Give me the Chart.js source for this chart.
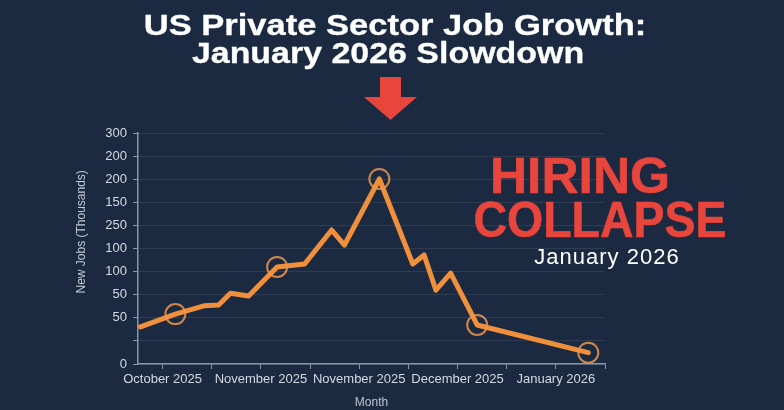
<!DOCTYPE html>
<html>
<head>
<meta charset="utf-8">
<script src="https://cdn.jsdelivr.net/npm/chart.js@4"></script>
<style>
  html, body { margin: 0; padding: 0; background: #1b2a41; }
  canvas { display: block; }
</style>
</head>
<body>
<canvas id="chart" width="784" height="410"></canvas>
<script>
'use strict';

// Axis tick labels as printed on the picture (y labels bottom to top, one per tick step)
const yTickLabels = ['0', '', '50', '50', '100', '100', '250', '150', '200', '200', '300'];
const monthLabels = ['October 2025', '', 'November 2025', '', 'November 2025', '', 'December 2025', '', 'January 2026', ''];

// Line points, in tick steps along each axis
const pointX = [-0.45, 0.26, 0.84, 1.14, 1.38, 1.75, 2.33, 2.89, 3.44, 3.70, 4.41, 5.09, 5.32, 5.56, 5.86, 6.40, 8.66];
const pointY = [1.61, 2.16, 2.52, 2.55, 3.06, 2.94, 4.20, 4.33, 5.80, 5.15, 8.01, 4.33, 4.72, 3.20, 3.93, 1.69, 0.49];
const circled = [false, true, false, false, false, false, true, false, false, false, true, false, false, false, false, true, true];

const titleLines = ['US Private Sector Job Growth:', 'January 2026 Slowdown'];
const headline = ['HIRING', 'COLLAPSE'];
const subline = 'January 2026';

const FONT = '"Liberation Sans", Arial, sans-serif';
const BG = '#1b2a41';
const ORANGE = '#f0903d';
const RED = '#e8453c';
const AXIS = '#8a97a9';
const TICK_TEXT = '#d3d9e2';

// bold text, stretched horizontally by sx, thickened a little by a stroke
function heavyText(ctx, text, x, y, sx, stroke) {
  ctx.save();
  ctx.translate(x, y);
  ctx.scale(sx, 1);
  ctx.fillText(text, 0, 0);
  ctx.lineWidth = stroke;
  ctx.lineJoin = 'round';
  ctx.strokeStyle = ctx.fillStyle;
  ctx.strokeText(text, 0, 0);
  ctx.restore();
}

const decorations = {
  id: 'decorations',
  beforeDraw(chart) {
    const ctx = chart.ctx;
    ctx.save();
    ctx.fillStyle = BG;
    ctx.fillRect(0, 0, chart.width, chart.height);
    ctx.restore();
  },
  afterDraw(chart) {
    const ctx = chart.ctx;
    ctx.save();

    // title
    ctx.fillStyle = '#ffffff';
    ctx.textAlign = 'center';
    ctx.textBaseline = 'alphabetic';
    ctx.font = 'bold 29px ' + FONT;
    heavyText(ctx, titleLines[0], 395, 35, 1.19, 0.3);
    heavyText(ctx, titleLines[1], 388, 63, 1.17, 0.3);

    // down arrow
    ctx.fillStyle = RED;
    ctx.beginPath();
    ctx.moveTo(380, 77);
    ctx.lineTo(401, 77);
    ctx.lineTo(401, 97);
    ctx.lineTo(417, 97);
    ctx.lineTo(390.5, 120);
    ctx.lineTo(364, 97);
    ctx.lineTo(380, 97);
    ctx.closePath();
    ctx.fill();

    // headline
    ctx.font = 'bold 50px ' + FONT;
    heavyText(ctx, headline[0], 580, 193, 1.03, 0.6);
    heavyText(ctx, headline[1], 600, 237, 0.93, 0.6);

    ctx.fillStyle = '#ffffff';
    ctx.font = '22px ' + FONT;
    ctx.letterSpacing = '1px';
    ctx.fillText(subline, 607, 264);
    ctx.restore();
  }
};

new Chart(document.getElementById('chart'), {
  type: 'line',
  data: {
    datasets: [
      {
        data: pointX.map((x, i) => ({ x, y: pointY[i] })),
        borderColor: ORANGE,
        borderWidth: 5,
        borderJoinStyle: 'round',
        borderCapStyle: 'round',
        tension: 0,
        pointRadius: circled.map((c) => (c ? 10 : 0)),
        pointHoverRadius: circled.map((c) => (c ? 10 : 0)),
        pointBorderWidth: 2,
        pointBorderColor: 'rgba(236, 150, 80, 0.85)',
        pointBackgroundColor: 'rgba(0, 0, 0, 0)',
      },
    ],
  },
  options: {
    responsive: false,
    animation: false,
    devicePixelRatio: 1,
    layout: { padding: { top: 133, left: 70, right: 179, bottom: 0 } },
    plugins: {
      legend: { display: false },
      tooltip: { enabled: false },
    },
    scales: {
      x: {
        type: 'linear',
        min: -0.5,
        max: 9,
        afterFit: (s) => { s.height = 46; },
        afterBuildTicks: (s) => { s.ticks = monthLabels.map((_, i) => ({ value: i })); },
        border: { color: AXIS, width: 1.5 },
        grid: { drawOnChartArea: false, color: AXIS, tickLength: 5 },
        ticks: {
          autoSkip: false,
          maxRotation: 0,
          padding: 3,
          color: TICK_TEXT,
          font: { family: FONT, size: 13 },
          callback: (v) => monthLabels[v] || '',
        },
        title: {
          display: true,
          text: 'Month',
          color: '#bcc4cf',
          font: { family: FONT, size: 12 },
          padding: { top: 0, bottom: 0 },
        },
      },
      y: {
        type: 'linear',
        min: 0,
        max: 10,
        afterFit: (s) => { s.width = 68; },
        border: { color: AXIS, width: 1.5 },
        grid: { color: 'rgba(255, 255, 255, 0.09)', tickColor: AXIS, tickLength: 5 },
        ticks: {
          stepSize: 1,
          padding: 6,
          color: TICK_TEXT,
          font: { family: FONT, size: 13 },
          callback: (v) => yTickLabels[v] ?? '',
        },
        title: {
          display: true,
          text: '          New Jobs (Thousands)',
          color: '#c4cbd6',
          font: { family: '"Liberation Sans Narrow", "Liberation Sans", sans-serif', size: 12 },
        },
      },
    },
  },
  plugins: [decorations],
});
</script>
</body>
</html>
